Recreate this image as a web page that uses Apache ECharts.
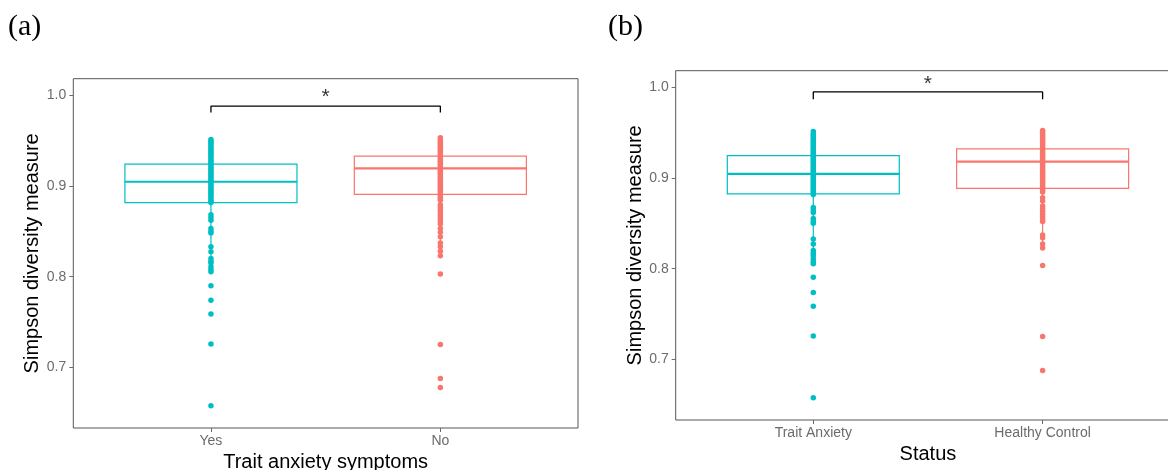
<!DOCTYPE html>
<html>
<head>
<meta charset="utf-8">
<script src="https://cdn.jsdelivr.net/npm/echarts@6/dist/echarts.min.js"></script>
<style>
html,body{margin:0;padding:0;background:#fff;}
#chart{width:1168px;height:470px;}
</style>
</head>
<body>
<div id="chart"></div>
<script>
// ---------- data ----------
const panelLabels = ['(a)', '(b)'];
const catsA = ['Yes', 'No'];
const catsB = ['Trait Anxiety', 'Healthy Control'];
const xTitleA = 'Trait anxiety symptoms';
const xTitleB = 'Status';
const yTitle = 'Simpson diversity measure';
const yTicks = [0.7, 0.8, 0.9, 1.0];

// box stats: [x, q1, median, q3, whiskerLow, whiskerHigh]
const boxYesA = [1, 0.8815, 0.9044, 0.9238, 0.8055, 0.951];
const boxNoA  = [2, 0.8905, 0.9191, 0.9326, 0.823, 0.9527];
const boxTaB  = [1, 0.8822, 0.9042, 0.9243, 0.8054, 0.9508];
const boxHcB  = [2, 0.8884, 0.9178, 0.9317, 0.8227, 0.9519];

const yesA = [0.951,0.949,0.947,0.945,0.943,0.941,0.939,0.937,0.935,0.933,0.931,0.929,0.927,0.925,0.923,0.921,0.919,0.917,0.915,0.913,0.911,0.909,0.907,0.905,0.903,0.901,0.899,0.897,0.895,0.893,0.891,0.889,0.887,0.885,0.883,0.8815,
  0.868,0.865,0.862,0.853,0.850,0.848,0.833,0.8275,0.820,0.817,0.815,0.811,0.808,0.8055,0.790,0.774,0.759,0.726,0.658];
const noA = [0.9527,0.950,0.948,0.946,0.944,0.942,0.940,0.938,0.936,0.934,0.932,0.930,0.928,0.926,0.924,0.922,0.920,0.918,0.916,0.914,0.912,0.910,0.908,0.906,0.904,0.902,0.900,0.898,0.896,0.894,0.892,0.890,0.888,0.886,0.884,
  0.879,0.876,0.873,0.870,0.867,0.864,0.861,0.858,0.853,0.849,0.844,0.837,0.833,0.828,0.823,0.803,0.7255,0.688,0.678];
const taB = [0.9508,0.948,0.946,0.944,0.942,0.940,0.938,0.936,0.934,0.932,0.930,0.928,0.926,0.924,0.922,0.920,0.918,0.916,0.914,0.912,0.910,0.908,0.906,0.904,0.902,0.900,0.898,0.896,0.894,0.892,0.890,0.888,0.886,0.884,0.8815,
  0.8673,0.8645,0.8618,0.8552,0.8525,0.850,0.8326,0.827,0.820,0.817,0.8145,0.811,0.808,0.8054,0.7906,0.7738,0.7587,0.726,0.658];
const hcB = [0.952,0.950,0.948,0.946,0.944,0.942,0.940,0.938,0.936,0.934,0.932,0.930,0.928,0.926,0.924,0.922,0.920,0.918,0.916,0.914,0.912,0.910,0.908,0.906,0.904,0.902,0.900,0.898,0.896,0.894,0.892,0.890,0.888,0.886,0.8844,
  0.878,0.8745,0.869,0.866,0.863,0.860,0.857,0.854,0.852,0.837,0.834,0.827,0.8227,0.8036,0.7253,0.688];

// significance brackets: [x, y] path
const bracketA = [[1, 0.9807], [1, 0.9876], [2, 0.9876], [2, 0.9807]];
const bracketB = [[1, 0.9865], [1, 0.9945], [2, 0.9945], [2, 0.9865]];
const starA = [[1.5, 0.9975]];
const starB = [[1.5, 1.0033]];

// ---------- styling ----------
const CYAN = '#00BFC4';
const SALMON = '#F8766D';
const FONT = 'Liberation Sans, Arial, sans-serif';
const GRAY = '#6b6b6b';

function boxSeries(idx, box, color) {
  return {
    type: 'custom', xAxisIndex: idx, yAxisIndex: idx, z: 2,
    data: [box],
    renderItem: function (params, api) {
      const x = api.value(0), q1 = api.value(1), med = api.value(2), q3 = api.value(3), lo = api.value(4), hi = api.value(5);
      const tl = api.coord([x - 0.375, q3]);
      const br = api.coord([x + 0.375, q1]);
      const ml = api.coord([x - 0.375, med]);
      const mr = api.coord([x + 0.375, med]);
      const c = api.coord([x, q3]);
      const wHi = api.coord([x, hi]);
      const cb = api.coord([x, q1]);
      const wLo = api.coord([x, lo]);
      const st = { stroke: color, lineWidth: 1.2, fill: null };
      return {
        type: 'group',
        children: [
          { type: 'line', shape: { x1: c[0], y1: c[1], x2: wHi[0], y2: wHi[1] }, style: st },
          { type: 'line', shape: { x1: cb[0], y1: cb[1], x2: wLo[0], y2: wLo[1] }, style: st },
          { type: 'rect', shape: { x: tl[0], y: tl[1], width: br[0] - tl[0], height: br[1] - tl[1] }, style: { stroke: color, lineWidth: 1.2, fill: '#fff' } },
          { type: 'line', shape: { x1: ml[0], y1: ml[1], x2: mr[0], y2: mr[1] }, style: { stroke: color, lineWidth: 2.2 } }
        ]
      };
    }
  };
}

function pointSeries(idx, vals, x, color) {
  return {
    type: 'scatter', xAxisIndex: idx, yAxisIndex: idx, z: 3,
    symbol: 'circle', symbolSize: 5.5,
    itemStyle: { color: color, opacity: 1 },
    data: vals.map(v => [x, v]),
    silent: true
  };
}

function bracketSeries(idx, path) {
  return {
    type: 'line', xAxisIndex: idx, yAxisIndex: idx, z: 4,
    data: path, showSymbol: false, symbol: 'none',
    lineStyle: { color: '#000', width: 1.3 }, silent: true
  };
}

function starSeries(idx, pt) {
  return {
    type: 'scatter', xAxisIndex: idx, yAxisIndex: idx, z: 4,
    data: pt, symbolSize: 0,
    label: { show: true, position: 'inside', formatter: '*', color: '#000', fontSize: 21, fontFamily: FONT },
    silent: true
  };
}

function xAxisCfg(idx, cats, title) {
  return {
    type: 'value', gridIndex: idx, min: 0.4, max: 2.6,
    name: title, nameLocation: 'middle', nameGap: 22,
    nameTextStyle: { color: '#000', fontSize: 20, fontFamily: FONT },
    axisLine: { show: false },
    splitLine: { show: false },
    axisTick: { show: true, length: 4, customValues: [1, 2], lineStyle: { color: GRAY, width: 1 } },
    axisLabel: { customValues: [1, 2], margin: 6, color: GRAY, fontSize: 14, fontFamily: FONT,
      formatter: v => cats[Math.round(v) - 1] }
  };
}

function yAxisCfg(idx, gap) {
  return {
    type: 'value', gridIndex: idx, min: 0.6335, max: 1.0178,
    name: yTitle, nameLocation: 'middle', nameGap: gap,
    nameTextStyle: { color: '#000', fontSize: 20, fontFamily: FONT },
    axisLine: { show: false },
    splitLine: { show: false },
    axisTick: { show: true, length: 4, customValues: yTicks, lineStyle: { color: GRAY, width: 1 } },
    axisLabel: { customValues: yTicks, margin: 7, color: GRAY, fontSize: 14, fontFamily: FONT,
      formatter: v => v.toFixed(1) }
  };
}

const chart = echarts.init(document.getElementById('chart'), null, { renderer: 'canvas' });
chart.setOption({
  animation: false,
  backgroundColor: '#fff',
  grid: [
    { left: 73.3, top: 78.7, width: 504.7, height: 349.3, containLabel: false, outerBoundsMode: 'none', show: true, borderColor: '#555', borderWidth: 1, backgroundColor: 'transparent' },
    { left: 675.7, top: 70.7, width: 504.5, height: 349.3, containLabel: false, outerBoundsMode: 'none', show: true, borderColor: '#555', borderWidth: 1, backgroundColor: 'transparent' }
  ],
  xAxis: [xAxisCfg(0, catsA, xTitleA), xAxisCfg(1, catsB, xTitleB)],
  yAxis: [yAxisCfg(0, 28), yAxisCfg(1, 28)],
  graphic: [
    { type: 'text', left: 8, top: 12, style: { text: panelLabels[0], fontSize: 30, fontFamily: 'Liberation Serif, Times New Roman, serif', fill: '#000' } },
    { type: 'text', left: 608, top: 12, style: { text: panelLabels[1], fontSize: 30, fontFamily: 'Liberation Serif, Times New Roman, serif', fill: '#000' } }
  ],
  series: [
    boxSeries(0, boxYesA, CYAN),
    boxSeries(0, boxNoA, SALMON),
    boxSeries(1, boxTaB, CYAN),
    boxSeries(1, boxHcB, SALMON),
    pointSeries(0, yesA, 1, CYAN),
    pointSeries(0, noA, 2, SALMON),
    pointSeries(1, taB, 1, CYAN),
    pointSeries(1, hcB, 2, SALMON),
    bracketSeries(0, bracketA),
    bracketSeries(1, bracketB),
    starSeries(0, starA),
    starSeries(1, starB)
  ]
});
</script>
</body>
</html>
